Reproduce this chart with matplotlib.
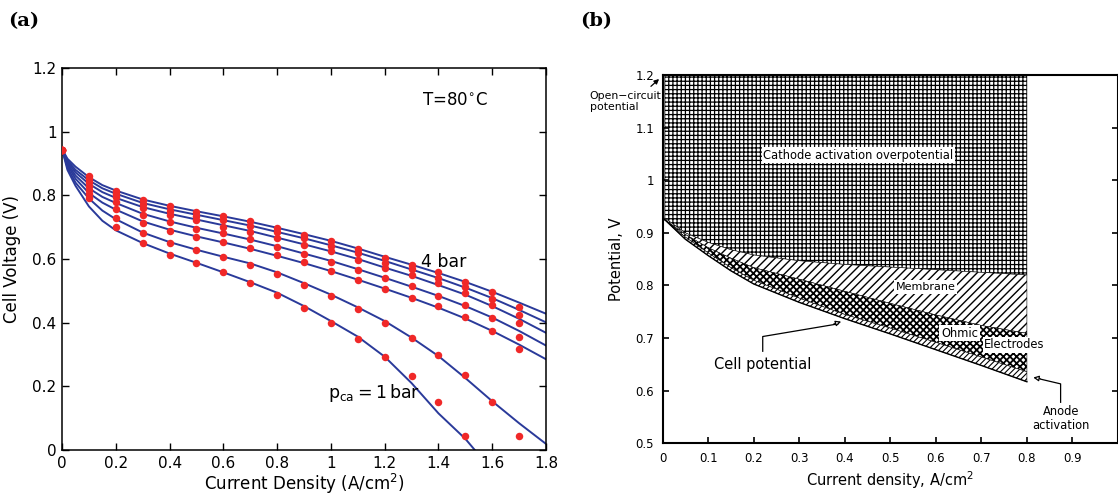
import matplotlib.pyplot as plt

plt.rcParams['font.family'] = ['DejaVu Sans']

# ---- (a) polarization curves at T=80C, cathode pressure 4 bar (top) .. 1 bar (bottom)
x_meas = [0, 0.1, 0.2, 0.3, 0.4, 0.5, 0.6, 0.7, 0.8, 0.9, 1.0, 1.1, 1.2, 1.3, 1.4, 1.5, 1.6, 1.7]
v_meas = [
    [0.943, 0.862, 0.815, 0.786, 0.765, 0.749, 0.734, 0.718, 0.697, 0.676, 0.655, 0.631, 0.603, 0.582, 0.558, 0.529, 0.495, 0.449],
    [0.943, 0.852, 0.805, 0.773, 0.752, 0.736, 0.721, 0.704, 0.684, 0.665, 0.641, 0.618, 0.587, 0.568, 0.540, 0.511, 0.475, 0.424],
    [0.943, 0.842, 0.795, 0.760, 0.739, 0.723, 0.702, 0.686, 0.666, 0.645, 0.624, 0.597, 0.571, 0.550, 0.524, 0.493, 0.456, 0.398],
    [0.943, 0.830, 0.780, 0.739, 0.715, 0.694, 0.681, 0.662, 0.639, 0.616, 0.592, 0.566, 0.540, 0.514, 0.484, 0.454, 0.414, 0.356],
    [0.943, 0.818, 0.757, 0.713, 0.689, 0.669, 0.652, 0.634, 0.613, 0.589, 0.563, 0.534, 0.505, 0.479, 0.451, 0.419, 0.375, 0.316],
    [0.943, 0.805, 0.730, 0.681, 0.650, 0.627, 0.605, 0.582, 0.552, 0.519, 0.485, 0.442, 0.398, 0.351, 0.297, 0.234, 0.152, 0.044],
    [0.943, 0.793, 0.700, 0.650, 0.613, 0.587, 0.558, 0.526, 0.487, 0.445, 0.400, 0.348, 0.293, 0.231, 0.152, 0.045],
]

x_fit = [0, 0.02, 0.05, 0.1, 0.15, 0.2, 0.3, 0.4, 0.5, 0.6, 0.7, 0.8, 0.9, 1.0, 1.1, 1.2, 1.3, 1.4, 1.5, 1.6, 1.7, 1.8]
v_fit = [
    [0.945, 0.915, 0.890, 0.857, 0.832, 0.815, 0.787, 0.767, 0.750, 0.734, 0.717, 0.698, 0.678, 0.657, 0.633, 0.607, 0.582, 0.556, 0.528, 0.497, 0.463, 0.428],
    [0.945, 0.910, 0.880, 0.847, 0.822, 0.805, 0.776, 0.756, 0.739, 0.722, 0.705, 0.685, 0.665, 0.643, 0.620, 0.594, 0.567, 0.540, 0.510, 0.477, 0.440, 0.401],
    [0.945, 0.905, 0.872, 0.836, 0.810, 0.792, 0.763, 0.742, 0.724, 0.706, 0.688, 0.667, 0.646, 0.624, 0.600, 0.573, 0.547, 0.518, 0.488, 0.452, 0.412, 0.368],
    [0.945, 0.900, 0.862, 0.822, 0.795, 0.776, 0.742, 0.718, 0.698, 0.680, 0.661, 0.640, 0.617, 0.594, 0.568, 0.541, 0.513, 0.484, 0.452, 0.416, 0.374, 0.328],
    [0.945, 0.895, 0.852, 0.807, 0.777, 0.755, 0.718, 0.692, 0.671, 0.652, 0.632, 0.610, 0.587, 0.562, 0.535, 0.507, 0.478, 0.447, 0.413, 0.374, 0.331, 0.285],
    [0.945, 0.888, 0.840, 0.790, 0.752, 0.725, 0.683, 0.653, 0.629, 0.607, 0.586, 0.558, 0.524, 0.488, 0.448, 0.405, 0.353, 0.295, 0.226, 0.153, 0.084, 0.019],
]
x_fit_1bar = [0, 0.02, 0.05, 0.1, 0.15, 0.2, 0.3, 0.4, 0.5, 0.6, 0.7, 0.8, 0.9, 1.0, 1.1, 1.2, 1.3, 1.4, 1.5, 1.535]
v_fit_1bar = [0.945, 0.880, 0.830, 0.765, 0.720, 0.690, 0.650, 0.617, 0.588, 0.558, 0.527, 0.494, 0.452, 0.405, 0.356, 0.293, 0.210, 0.115, 0.035, 0.0]

# ---- (b) voltage loss breakdown
bx = [0.005, 0.05, 0.1, 0.15, 0.2, 0.3, 0.4, 0.5, 0.6, 0.7, 0.8]
cathode_low = [0.928, 0.900, 0.882, 0.868, 0.858, 0.847, 0.840, 0.835, 0.830, 0.825, 0.820]
membrane_low = [0.925, 0.897, 0.872, 0.852, 0.834, 0.812, 0.789, 0.766, 0.744, 0.724, 0.709]
electrode_low = [0.925, 0.892, 0.862, 0.834, 0.810, 0.776, 0.745, 0.719, 0.692, 0.664, 0.636]
cell_potential = [0.925, 0.888, 0.857, 0.828, 0.803, 0.768, 0.737, 0.708, 0.678, 0.648, 0.617]
ocv = 1.2

fig = plt.figure(figsize=(11.18, 4.97), dpi=100)

# panel (a)
ax = fig.add_axes([0.0555, 0.0946, 0.4329, 0.7686])
blue = '#2a3a9a'
red = '#f02828'
for v in v_fit:
    ax.plot(x_fit, v, color=blue, lw=1.4, zorder=2)
ax.plot(x_fit_1bar, v_fit_1bar, color=blue, lw=1.4, zorder=2)
for v in v_meas:
    ax.plot(x_meas[:len(v)], v, 'o', color=red, ms=5.4, mec='none', zorder=3)
ax.set_xlim(0, 1.8)
ax.set_ylim(0, 1.2)
ax.set_xticks([0, 0.2, 0.4, 0.6, 0.8, 1.0, 1.2, 1.4, 1.6, 1.8])
ax.set_xticklabels(['0', '0.2', '0.4', '0.6', '0.8', '1', '1.2', '1.4', '1.6', '1.8'])
ax.set_yticks([0, 0.2, 0.4, 0.6, 0.8, 1.0, 1.2])
ax.set_yticklabels(['0', '0.2', '0.4', '0.6', '0.8', '1', '1.2'])
ax.tick_params(direction='in', top=True, right=True, labelsize=11, length=5, width=1, pad=4)
for s in ax.spines.values():
    s.set_linewidth(1.1)
ax.set_xlabel('Current Density (A/cm$^2$)', fontsize=12, labelpad=1)
ax.set_ylabel('Cell Voltage (V)', fontsize=12, labelpad=8)
ax.text(1.46, 1.10, 'T=80$^{\\circ}$C', fontsize=12, ha='center', va='center')
ax.text(1.42, 0.59, '4 bar', fontsize=12.5, ha='center', va='center')
ax.text(0.99, 0.18, '$\\mathregular{p_{ca}=1\\,bar}$', fontsize=12.5, ha='left', va='center')

# panel (b)
bx_ax = fig.add_axes([0.5926, 0.108, 0.4074, 0.741])
plt.rcParams['hatch.linewidth'] = 0.9
bx_ax.fill_between(bx, cathode_low, ocv, facecolor='white', edgecolor='black',
                   hatch='++++', linewidth=0.4)
plt.rcParams['hatch.linewidth'] = 1.0
bx_ax.fill_between(bx, membrane_low, cathode_low, facecolor='white', edgecolor='black',
                   hatch='////', linewidth=0.4)
plt.rcParams['hatch.linewidth'] = 1.3
bx_ax.fill_between(bx, electrode_low, membrane_low, facecolor='white', edgecolor='black',
                   hatch='xxxxx', linewidth=0.4)
plt.rcParams['hatch.linewidth'] = 0.8
bx_ax.fill_between(bx, cell_potential, electrode_low, facecolor='white', edgecolor='black',
                   hatch='//////', linewidth=0.4)
bx_ax.plot(bx, cell_potential, color='black', lw=1.0)
bx_ax.plot([0.0, bx[0]], [0.93, cell_potential[0]], color='black', lw=1.0)
bx_ax.set_xlim(0, 1.0)
bx_ax.set_ylim(0.5, 1.2)
bx_ax.set_xticks([0, 0.1, 0.2, 0.3, 0.4, 0.5, 0.6, 0.7, 0.8, 0.9])
bx_ax.set_xticklabels(['0', '0.1', '0.2', '0.3', '0.4', '0.5', '0.6', '0.7', '0.8', '0.9'])
bx_ax.set_yticks([0.5, 0.6, 0.7, 0.8, 0.9, 1.0, 1.1, 1.2])
bx_ax.set_yticklabels(['0.5', '0.6', '0.7', '0.8', '0.9', '1', '1.1', '1.2'])
bx_ax.tick_params(direction='in', right=True, labelsize=8.5, length=4, width=1.2, pad=6)
bx_ax.tick_params(axis='y', right=True, labelright=False)
for s in bx_ax.spines.values():
    s.set_linewidth(1.5)
bx_ax.set_xlabel('Current density, A/cm$^2$', fontsize=10.5, labelpad=3)
bx_ax.set_ylabel('Potential, V', fontsize=10.5, labelpad=8)

box = dict(facecolor='white', edgecolor='none', pad=1.2)
bx_ax.text(0.43, 1.048, 'Cathode activation overpotential', fontsize=8.3, ha='center', va='center', bbox=box)
bx_ax.text(0.578, 0.797, 'Membrane', fontsize=8, ha='center', va='center', bbox=box)
bx_ax.text(0.652, 0.709, 'Ohmic', fontsize=8.3, ha='center', va='center', bbox=box)
bx_ax.text(0.773, 0.687, 'Electrodes', fontsize=8.3, ha='center', va='center', bbox=box)
bx_ax.text(0.22, 0.650, 'Cell potential', fontsize=10.5, ha='center', va='center')
bx_ax.text(0.875, 0.548, 'Anode\nactivation', fontsize=8.3, ha='center', va='center', linespacing=1.1)
bx_ax.text(-0.16, 1.15, 'Open\u2212circuit\npotential', fontsize=7.8, ha='left', va='center',
           linespacing=1.1, clip_on=False)
bx_ax.annotate('', xy=(-0.003, 1.196), xytext=(-0.03, 1.175), annotation_clip=False,
               arrowprops=dict(arrowstyle='-|>', color='black', lw=0.9, mutation_scale=7))

# leader lines
bx_ax.plot([0.22, 0.22, 0.385], [0.675, 0.703, 0.727], color='black', lw=0.9)
bx_ax.annotate('', xy=(0.398, 0.733), xytext=(0.37, 0.725),
               arrowprops=dict(arrowstyle='-|>', color='black', lw=0.9, mutation_scale=8,
                               fc='white'))
bx_ax.plot([0.874, 0.874, 0.83], [0.578, 0.613, 0.622], color='black', lw=0.9)
bx_ax.annotate('', xy=(0.808, 0.626), xytext=(0.835, 0.622),
               arrowprops=dict(arrowstyle='-|>', color='black', lw=0.9, mutation_scale=8,
                               fc='white'))

fig.text(0.007, 0.958, '(a)', fontsize=14, fontweight='bold', family='DejaVu Serif', va='center')
fig.text(0.519, 0.958, '(b)', fontsize=14, fontweight='bold', family='DejaVu Serif', va='center')

fig.savefig('out.png', dpi=100)
